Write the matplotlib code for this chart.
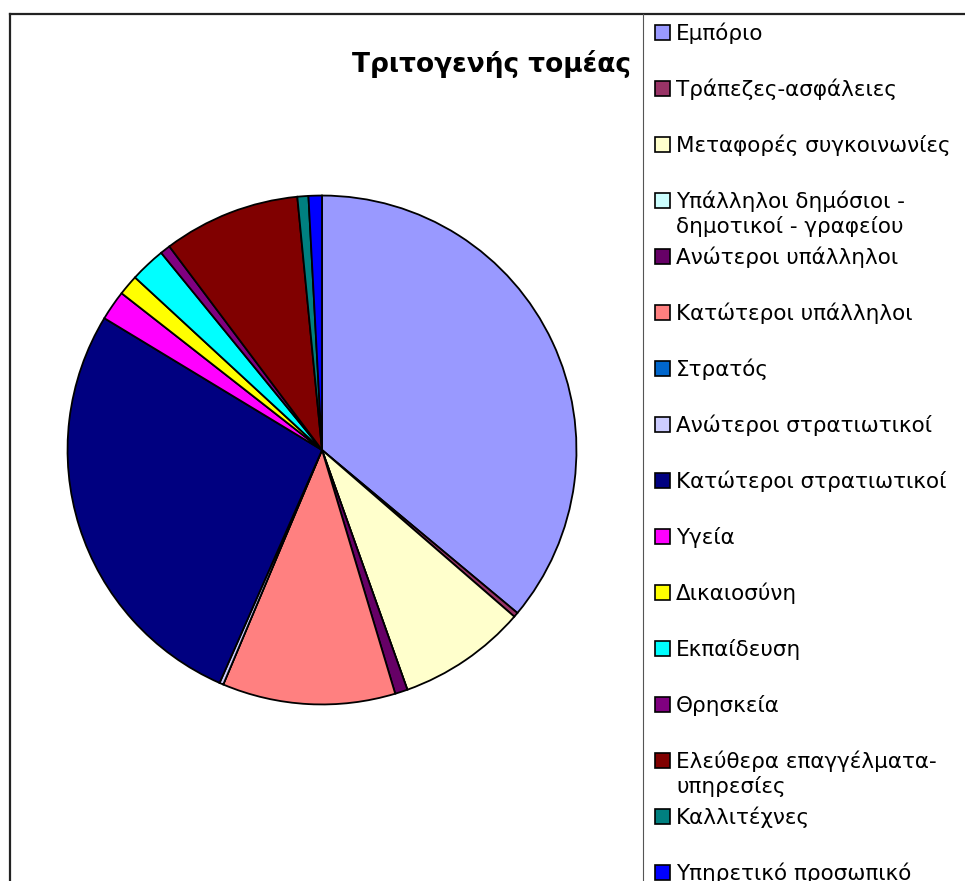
import matplotlib as mpl
import matplotlib.pyplot as plt
from matplotlib.lines import Line2D
from matplotlib.patches import Rectangle

mpl.rcParams.update({"font.family": ["DejaVu Sans"]})

TITLE = "Τριτογενής τομέας"

categories = [
    "Εμπόριο",
    "Τράπεζες-ασφάλειες",
    "Μεταφορές συγκοινωνίες",
    "Υπάλληλοι δημόσιοι -\nδημοτικοί - γραφείου",
    "Ανώτεροι υπάλληλοι",
    "Κατώτεροι υπάλληλοι",
    "Στρατός",
    "Ανώτεροι στρατιωτικοί",
    "Κατώτεροι στρατιωτικοί",
    "Υγεία",
    "Δικαιοσύνη",
    "Εκπαίδευση",
    "Θρησκεία",
    "Ελεύθερα επαγγέλματα-\nυπηρεσίες",
    "Καλλιτέχνες",
    "Υπηρετικό προσωπικό",
]

# share (%)
shares = [36.1, 0.3, 8.2, 0.0, 0.8, 11.0, 0.0, 0.25, 27.1, 1.9, 1.3, 2.25, 0.65, 8.7, 0.7, 0.85]

colors = [
    "#9999FF", "#993366", "#FFFFCC", "#CCFFFF", "#660066", "#FF8080",
    "#0066CC", "#CCCCFF", "#000080", "#FF00FF", "#FFFF00", "#00FFFF",
    "#800080", "#800000", "#008080", "#0000FF",
]

W, H = 965, 881
fig = plt.figure(figsize=(W / 100, H / 100), dpi=100)


def fx(px):
    return px / W


def fy(py):
    return 1 - py / H


# pie, centre (322, 450) px, radius 257 px
cx, cy, r = 322, 450, 257
ax = fig.add_axes([fx(cx - r), fy(cy + r), 2 * r / W, 2 * r / H])
ax.pie(shares, colors=colors, startangle=90, counterclock=False,
       wedgeprops={"edgecolor": "black", "linewidth": 1.3})
ax.set_xlim(-1.01, 1.01)
ax.set_ylim(-1.01, 1.01)
ax.set_aspect("equal")
ax.axis("off")

fig.text(fx(492), fy(64), TITLE, ha="center", va="center",
         fontsize=19, fontweight="bold")

# frame lines (chart is cropped at right/bottom)
fig.add_artist(Line2D([fx(10), 1], [fy(14), fy(14)], color="#222222", lw=1.6))
fig.add_artist(Line2D([fx(10), fx(10)], [0, fy(14)], color="#222222", lw=1.6))
fig.add_artist(Line2D([fx(643), fx(643)], [0, fy(14)], color="#555555", lw=0.8))

# legend drawn by hand; wrapped labels hang below their first line
for i, (lab, col) in enumerate(zip(categories, colors)):
    y = 32.5 + 56.0 * i
    fig.add_artist(Rectangle((fx(655), fy(y + 7.5)), 15 / W, 15 / H,
                             facecolor=col, edgecolor="black", lw=1.2))
    for k, line in enumerate(lab.split("\n")):
        fig.text(fx(676), fy(y + 7.5 + 25 * k), line, ha="left", va="baseline",
                 fontsize=15.5)

fig.savefig("out.png", dpi=100)
